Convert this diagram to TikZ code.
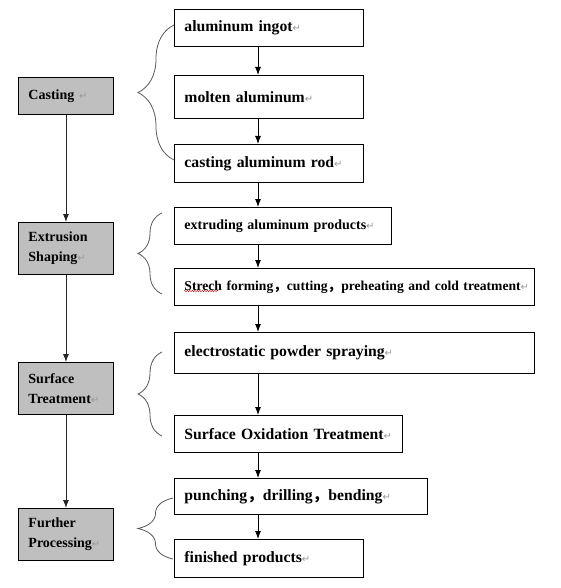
\documentclass[tikz,border=0pt]{standalone}
\usepackage{fontspec}
\setmainfont{Liberation Serif}
\newfontfamily\cjk{Noto Sans CJK SC}
\newfontfamily\markfont{DejaVu Sans}
\usetikzlibrary{arrows.meta,decorations.pathreplacing,decorations.pathmorphing}

\newcommand\parmark{{\markfont\mdseries\color{black!40}\fontsize{10}{10}\selectfont ↵}}
\newcommand\fwcomma{{\cjk ，}}

\begin{document}
\begin{tikzpicture}[
        x=1pt, y=-1pt, % pixel coordinates, y going down
        stepbox/.style={
            draw=black,
            line width=0.9pt,
            anchor=north west,
            inner xsep=10pt, % left padding of the text
            inner ysep=0pt,
            align=left,
            font=\bfseries\fontsize{15.7}{18}\selectfont
        },
        narrowtext/.style={font=\bfseries\fontsize{14}{18}\selectfont},
        stagebox/.style={
            stepbox,
            fill=gray!50, % gray boxes on the left
            text width=75pt,
            minimum height=52pt,
            font=\bfseries\fontsize{14}{20}\selectfont
        },
        flow/.style={-{Latex[length=8pt,width=6pt]}, line width=0.9pt},
        stageline/.style={flow, draw=black!85, line width=0.8pt},
        stagebrace/.style={
            draw=black!65,
            line width=0.8pt,
            decorate,
            decoration={brace, amplitude=#1}
        }
    ]

\useasboundingbox (0,0) rectangle (561,588);

% Left column: the four stages
\node[stagebox, minimum height=37pt] (casting) at (18,77) {Casting \parmark};
\node[stagebox] (extrusion) at (18,222) {Extrusion\\Shaping\parmark};
\node[stagebox] (surface) at (18,362) {Surface\\Treatment\parmark};
\node[stagebox] (further) at (18,508) {Further\\Processing\parmark};

\draw[stageline] (casting) -- (extrusion);
\draw[stageline] (extrusion) -- (surface);
\draw[stageline] (surface) -- (further);

% Right column: the single steps
\node[stepbox, text width=169pt, minimum height=37pt] (ingot) at (174,9) {aluminum ingot\parmark};
\node[stepbox, text width=169pt, minimum height=43pt] (molten) at (174,75) {molten aluminum\parmark};
\node[stepbox, text width=169pt, minimum height=38pt] (rod) at (174,144) {casting aluminum rod\parmark};
\node[stepbox, narrowtext, text width=197pt, minimum height=37pt] (extrude) at (174,207) {extruding aluminum products\parmark};
\node[stepbox, narrowtext, font=\bfseries\fontsize{13.6}{18}\selectfont, text width=340pt, minimum height=37pt] (stretch) at (174,268)
    {\mbox{Strech forming\fwcomma cutting\fwcomma preheating and cold treatment\parmark}};
\node[stepbox, text width=340pt, minimum height=41pt] (spray) at (174,332) {electrostatic powder spraying\parmark};
\node[stepbox, text width=208pt, minimum height=37pt] (oxide) at (174,415) {Surface Oxidation Treatment\parmark};
\node[stepbox, text width=233pt, minimum height=36pt] (punch) at (174,478) {punching\fwcomma drilling\fwcomma bending\parmark};
\node[stepbox, text width=169pt, minimum height=38pt] (finish) at (174,539) {finished products\parmark};

% all arrows of the right column sit on one vertical
\coordinate (colx) at (258,0);
\draw[flow] (ingot.south -| colx) -- (molten.north -| colx);
\draw[flow] (molten.south -| colx) -- (rod.north -| colx);
\draw[flow] (rod.south -| colx) -- (extrude.north -| colx);
\draw[flow] (extrude.south -| colx) -- (stretch.north -| colx);
\draw[flow] (stretch.south -| colx) -- (spray.north -| colx);
\draw[flow] (spray.south -| colx) -- (oxide.north -| colx);
\draw[flow] (oxide.south -| colx) -- (punch.north -| colx);
\draw[flow] (punch.south -| colx) -- (finish.north -| colx);

% Braces grouping the steps of each stage
\draw[stagebrace=36pt] (174,160) -- (174,25);
\draw[stagebrace=24pt] (162,294) -- (162,213);
\draw[stagebrace=24pt] (162,436) -- (162,352);
\draw[stagebrace=35pt] (173,559) -- (173,498);

% spell check mark under "Strech"
\draw[red!80!black, line width=0.4pt, decorate, decoration={snake, amplitude=0.7pt, segment length=2.5pt}]
  (184,291) -- (219,291);

\end{tikzpicture}
\end{document}
